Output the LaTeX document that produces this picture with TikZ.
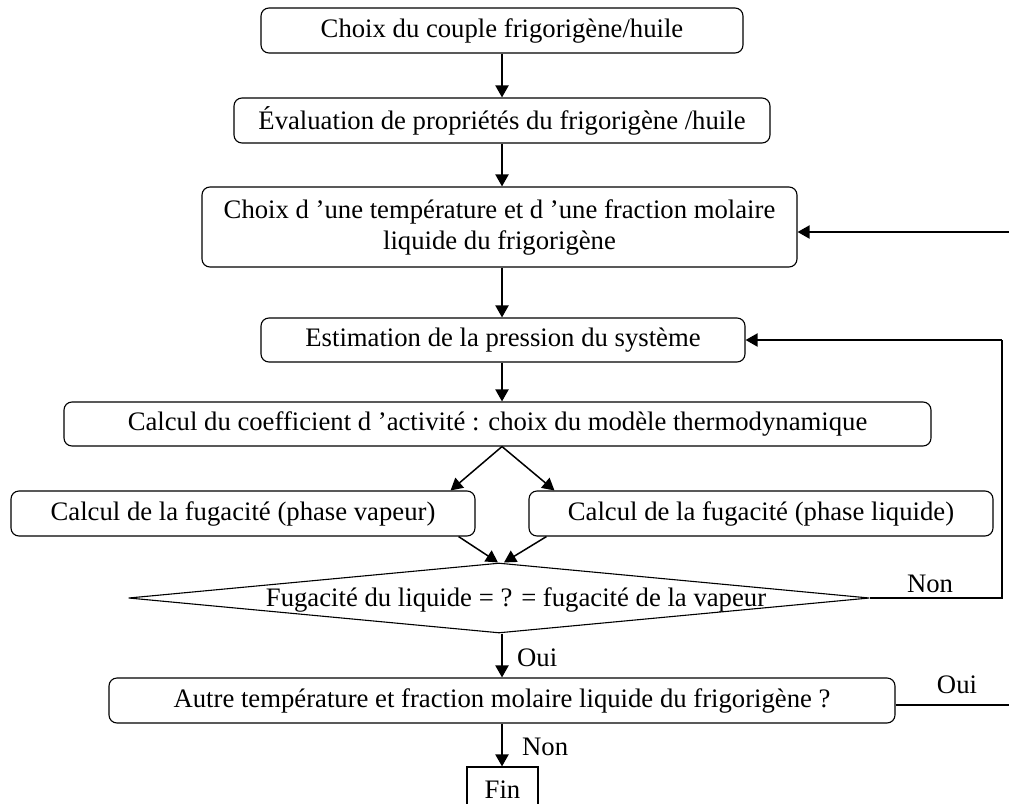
\documentclass[tikz,border=0pt]{standalone}
\usepackage{fontspec}
\setmainfont{Liberation Serif}
\usetikzlibrary{arrows.meta,shapes.geometric,calc}
\begin{document}
\begin{tikzpicture}[x=1pt,y=-1pt,
  txt/.style={font=\fontsize{26.7}{31}\selectfont},
  box/.style={draw, rounded corners=8pt, line width=1.1pt, inner sep=0pt, align=center, txt},
  plain/.style={draw, line width=1.1pt, inner sep=0pt, txt},
  arr/.style={line width=2pt, -{Triangle[length=12pt,width=13pt]}},
  darr/.style={line width=1.5pt, -{Triangle[length=12pt,width=13pt]}},
  thinline/.style={line width=1.2pt},
  lab/.style={txt, inner sep=0pt},
]
\path[use as bounding box] (0,0) rectangle (1009,803);
\clip (0,0) rectangle (1009,803);

\node[box, minimum width=482pt, minimum height=45pt] (b1) at (502,30.5) {Choix du couple frigorigène/huile};
\node[box, minimum width=536pt, minimum height=45pt] (b2) at (502,120.5) {Évaluation de propriétés du frigorigène /huile};
\node[box, minimum width=595pt, minimum height=80pt] (b3) at (499.5,227) {Choix d ’une température et d ’une fraction molaire\\liquide du frigorigène};
\node[box, minimum width=484pt, minimum height=44pt] (b4) at (503,340) {Estimation de la pression du système};
\node[box, minimum width=867pt, minimum height=44pt] (b5) at (497.5,424) {Calcul du coefficient d ’activité : choix du modèle thermodynamique};
\node[box, minimum width=464pt, minimum height=45pt] (b6) at (243,513.5) {Calcul de la fugacité (phase vapeur)};
\node[box, minimum width=464pt, minimum height=45pt] (b7) at (761,513.5) {Calcul de la fugacité (phase liquide)};
\node[draw, diamond, line width=1.1pt, inner sep=0pt, minimum width=741pt, minimum height=70pt] (dec) at (499,598) {};
\node[lab] (dect) at (516,600) {Fugacité du liquide = ? = fugacité de la vapeur};
\node[box, minimum width=786pt, minimum height=45pt] (b8) at (502,700.5) {Autre température et fraction molaire liquide du frigorigène ?};
\node[plain, minimum width=71pt, minimum height=45pt] (fin) at (502.5,789.5) {Fin};

% main vertical arrows
\draw[arr] (b1.south) -- (b1.south |- b2.north);
\draw[arr] (b2.south) -- (b2.south |- b3.north);
\draw[arr] (b2.south |- b3.south) -- (b2.south |- b4.north);
\draw[arr] (b2.south |- b4.south) -- (b2.south |- b5.north);

% split
\coordinate (sp) at (b2.south |- b5.south);
\draw[darr] (sp) -- ($(b6.north east)+(-25,0)$);
\draw[darr] (sp) -- ($(b7.north west)+(26,0)$);

% merge
\draw[darr] ($(b6.south east)+(-17,0)$) -- ($(dec.north)+(-1,0)$);
\draw[darr] ($(b7.south west)+(18,0)$) -- ($(dec.north)+(5,0)$);

% Oui down
\draw[arr] (b8.north |- dec.south) -- (b8.north);
\node[lab, anchor=west] (oui1) at (517,658) {Oui};

% Non down
\draw[arr] (b8.south) -- (b8.south |- fin.north);
\node[lab, anchor=west] (non1) at (522,747) {Non};

% Non loop back
\coordinate (nr) at (1002,598);
\draw[thinline] (dec.east) -- (nr) -- (nr |- b4.east);
\draw[arr] (nr |- b4.east) -- (b4.east);
\node[lab] (non2) at (930,584) {Non};

% Oui loop (off page)
\coordinate (o1) at (1009,705);
\draw[thinline] (o1 -| b8.east) -- (o1);
\node[lab] (oui2) at (957,685) {Oui};
\coordinate (o2) at (1009,232);
\draw[arr] (o2) -- (o2 -| b3.east);
\end{tikzpicture}
\end{document}
